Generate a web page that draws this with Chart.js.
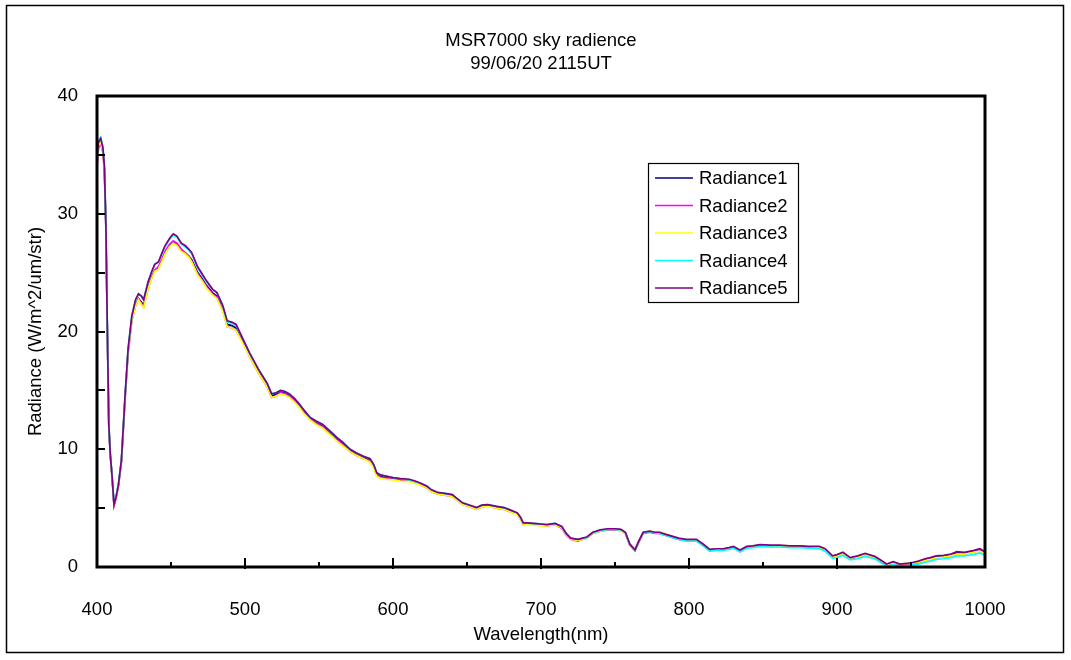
<!DOCTYPE html>
<html>
<head>
<meta charset="utf-8">
<style>
  html, body { margin: 0; padding: 0; background: #fff; }
  #wrap { width: 1071px; height: 660px; position: relative; }
</style>
<script src="https://cdn.jsdelivr.net/npm/chart.js@4.4.0/dist/chart.umd.min.js"></script>
</head>
<body>
<div id="wrap"><canvas id="chart" width="1071" height="660"></canvas></div>
<script>
// wavelength (nm)
const wavelengths = [
  400, 401, 402.5, 404, 405, 406, 407, 408, 409, 410,
  411.5, 413, 414.5, 416.5, 419, 421, 423.5, 426, 428, 430,
  431.5, 434.5, 437, 439, 441.5, 444, 446, 449, 451.5, 454,
  457, 459.5, 462, 464, 468, 471, 474, 478, 481, 485,
  488, 491, 494, 498.5, 503, 506, 509, 512, 515, 518,
  521, 524, 527, 530, 533.5, 537, 540, 544, 548, 552.5,
  556, 559.5, 562, 566, 571, 575, 580, 584.5, 587, 589,
  592, 596, 600, 605, 611, 615, 618, 623, 626, 630,
  635, 640, 644, 647, 652, 656.5, 660, 664, 670, 675,
  679, 684, 686, 688, 691, 695, 700, 704, 709.5, 714,
  717, 720, 725, 728, 731, 735, 740, 745, 750, 754,
  757, 760, 763.5, 765.5, 769, 773.5, 777, 780, 785, 789,
  793, 798, 805, 809.5, 814, 819, 823, 827, 830, 834.5,
  839, 843, 848, 855, 861.5, 868, 875, 881, 888, 892,
  897, 900, 904, 909, 914, 919, 925.5, 930, 933.5, 938,
  942.5, 947, 951.5, 955, 959.5, 963, 967, 972, 977, 981,
  986, 992, 996.5, 1000
];

const radiance1 = [
  34.6, 35.9, 36.2, 35.4, 33.8, 29.0, 20.0, 12.0, 9.5, 8.0,
  5.3, 6.0, 7.0, 9.0, 14.5, 18.3, 21.0, 22.2, 22.8, 22.5,
  22.2, 23.7, 24.6, 25.2, 25.4, 26.1, 26.7, 27.3, 27.6, 27.4,
  26.9, 26.7, 26.4, 26.1, 25.0, 24.5, 23.9, 23.3, 23.0, 21.9,
  20.6, 20.5, 20.3, 19.2, 18.0, 17.3, 16.6, 16.0, 15.4, 14.5,
  14.7, 14.9, 14.8, 14.6, 14.2, 13.7, 13.2, 12.6, 12.3, 12.0,
  11.6, 11.2, 10.9, 10.5, 9.9, 9.6, 9.3, 9.1, 8.6, 7.9,
  7.7, 7.6, 7.5, 7.4, 7.35, 7.2, 7.1, 6.8, 6.5, 6.3,
  6.2, 6.1, 5.7, 5.4, 5.2, 5.0, 5.2, 5.25, 5.1, 5.0,
  4.8, 4.55, 4.2, 3.7, 3.7, 3.65, 3.6, 3.55, 3.65, 3.4,
  2.8, 2.4, 2.3, 2.4, 2.5, 2.9, 3.1, 3.2, 3.2, 3.15,
  2.9, 1.9, 1.4, 2.0, 2.9, 3.0, 2.9, 2.9, 2.7, 2.55,
  2.4, 2.3, 2.3, 1.9, 1.45, 1.5, 1.5, 1.6, 1.7, 1.35,
  1.7, 1.75, 1.85, 1.8, 1.8, 1.75, 1.75, 1.7, 1.7, 1.5,
  0.9, 1.0, 1.2, 0.75, 0.9, 1.1, 0.85, 0.5, 0.2, 0.4,
  0.2, 0.25, 0.35, 0.4, 0.6, 0.7, 0.85, 0.9, 1.0, 1.2,
  1.15, 1.3, 1.45, 1.2
];

const radiance2 = [
  34.0, 35.5, 36.0, 35.2, 33.6, 28.8, 19.8, 11.9, 9.4, 7.9,
  5.2, 5.9, 6.9, 8.9, 14.3, 18.1, 20.9, 22.2, 22.8, 22.4,
  22.1, 23.7, 24.6, 25.2, 25.5, 26.2, 26.8, 27.4, 27.7, 27.5,
  27.0, 26.7, 26.4, 26.0, 24.9, 24.4, 23.8, 23.2, 22.9, 21.8,
  20.4, 20.3, 20.1, 19.1, 17.9, 17.2, 16.5, 15.9, 15.3, 14.4,
  14.5, 14.8, 14.7, 14.5, 14.1, 13.6, 13.1, 12.5, 12.2, 11.9,
  11.5, 11.1, 10.8, 10.4, 9.8, 9.5, 9.2, 9.0, 8.5, 7.8,
  7.6, 7.5, 7.45, 7.35, 7.3, 7.15, 7.0, 6.7, 6.4, 6.2,
  6.1, 6.0, 5.6, 5.3, 5.1, 4.9, 5.1, 5.2, 5.0, 4.9,
  4.7, 4.5, 4.1, 3.6, 3.65, 3.6, 3.55, 3.5, 3.6, 3.3,
  2.7, 2.35, 2.2, 2.35, 2.45, 2.85, 3.05, 3.15, 3.15, 3.1,
  2.85, 1.85, 1.4, 1.95, 2.85, 2.95, 2.85, 2.85, 2.65, 2.5,
  2.35, 2.25, 2.25, 1.85, 1.4, 1.45, 1.45, 1.55, 1.65, 1.3,
  1.65, 1.7, 1.8, 1.75, 1.75, 1.7, 1.7, 1.65, 1.65, 1.45,
  0.85, 0.95, 1.15, 0.7, 0.85, 1.05, 0.8, 0.45, 0.15, 0.35,
  0.15, 0.2, 0.3, 0.35, 0.55, 0.65, 0.8, 0.85, 0.95, 1.1,
  1.1, 1.25, 1.4, 1.15
];

const radiance3 = [
  34.4, 35.8, 36.1, 35.3, 33.7, 28.9, 19.9, 11.9, 9.4, 7.9,
  5.3, 6.0, 7.0, 9.0, 14.4, 18.2, 20.9, 22.1, 22.7, 22.3,
  22.0, 23.6, 24.5, 25.1, 25.3, 26.0, 26.6, 27.2, 27.5, 27.3,
  26.8, 26.6, 26.3, 25.9, 24.8, 24.3, 23.7, 23.1, 22.8, 21.7,
  20.4, 20.3, 20.1, 19.0, 17.9, 17.2, 16.5, 15.9, 15.3, 14.4,
  14.5, 14.7, 14.6, 14.4, 14.0, 13.5, 13.0, 12.5, 12.1, 11.8,
  11.4, 11.0, 10.7, 10.3, 9.8, 9.5, 9.2, 8.9, 8.4, 7.7,
  7.5, 7.45, 7.4, 7.3, 7.25, 7.1, 7.0, 6.7, 6.4, 6.2,
  6.1, 6.0, 5.6, 5.3, 5.1, 4.9, 5.1, 5.15, 5.0, 4.9,
  4.7, 4.45, 4.1, 3.6, 3.6, 3.55, 3.5, 3.5, 3.6, 3.35,
  2.75, 2.35, 2.25, 2.35, 2.45, 2.85, 3.05, 3.2, 3.2, 3.1,
  2.85, 1.9, 1.45, 2.0, 2.9, 3.05, 2.95, 3.0, 2.75, 2.6,
  2.4, 2.3, 2.3, 1.85, 1.45, 1.5, 1.55, 1.6, 1.7, 1.4,
  1.7, 1.75, 1.8, 1.8, 1.75, 1.75, 1.7, 1.7, 1.65, 1.5,
  0.9, 0.95, 1.15, 0.75, 0.85, 1.05, 0.8, 0.5, 0.2, 0.35,
  0.25, 0.3, 0.35, 0.4, 0.55, 0.65, 0.8, 0.85, 0.95, 1.1,
  1.1, 1.25, 1.35, 1.15
];

const radiance4 = [
  35.0, 36.2, 36.5, 35.7, 34.0, 29.2, 20.2, 12.1, 9.6, 8.1,
  5.4, 6.1, 7.1, 9.1, 14.6, 18.5, 21.3, 22.6, 23.2, 23.0,
  22.7, 24.2, 25.1, 25.7, 25.9, 26.6, 27.2, 27.8, 28.2, 28.0,
  27.4, 27.2, 26.9, 26.6, 25.4, 24.8, 24.2, 23.6, 23.3, 22.1,
  20.8, 20.7, 20.5, 19.4, 18.2, 17.5, 16.8, 16.2, 15.6, 14.7,
  14.8, 15.0, 14.9, 14.7, 14.3, 13.8, 13.3, 12.7, 12.4, 12.1,
  11.7, 11.3, 11.0, 10.6, 10.0, 9.7, 9.4, 9.2, 8.7, 8.0,
  7.8, 7.7, 7.6, 7.5, 7.4, 7.25, 7.15, 6.85, 6.55, 6.35,
  6.25, 6.15, 5.75, 5.45, 5.25, 5.05, 5.25, 5.3, 5.15, 5.05,
  4.85, 4.6, 4.25, 3.75, 3.7, 3.7, 3.65, 3.6, 3.7, 3.45,
  2.85, 2.45, 2.35, 2.4, 2.5, 2.9, 3.1, 3.2, 3.2, 3.15,
  2.9, 1.95, 1.45, 2.0, 2.9, 3.0, 2.9, 2.85, 2.65, 2.5,
  2.35, 2.2, 2.2, 1.8, 1.35, 1.4, 1.4, 1.5, 1.6, 1.3,
  1.6, 1.65, 1.75, 1.7, 1.7, 1.65, 1.65, 1.6, 1.55, 1.35,
  0.75, 0.8, 1.0, 0.6, 0.7, 0.9, 0.7, 0.35, 0.05, 0.2,
  0.05, 0.1, 0.2, 0.25, 0.4, 0.5, 0.65, 0.7, 0.8, 0.95,
  0.95, 1.05, 1.2, 1.0
];

const radiance5 = [
  34.8, 36.1, 36.4, 35.6, 34.0, 29.1, 20.1, 12.0, 9.5, 8.0,
  5.3, 6.0, 7.0, 9.1, 14.6, 18.5, 21.3, 22.7, 23.2, 23.0,
  22.7, 24.2, 25.1, 25.7, 25.9, 26.7, 27.3, 27.9, 28.3, 28.1,
  27.5, 27.3, 27.0, 26.7, 25.5, 24.9, 24.3, 23.6, 23.3, 22.2,
  20.9, 20.8, 20.6, 19.4, 18.2, 17.5, 16.8, 16.2, 15.6, 14.7,
  14.8, 15.0, 14.9, 14.7, 14.3, 13.8, 13.3, 12.7, 12.4, 12.1,
  11.7, 11.3, 11.0, 10.6, 10.0, 9.7, 9.4, 9.2, 8.7, 8.0,
  7.8, 7.7, 7.6, 7.5, 7.45, 7.3, 7.15, 6.85, 6.55, 6.35,
  6.25, 6.15, 5.75, 5.45, 5.25, 5.05, 5.25, 5.3, 5.15, 5.05,
  4.85, 4.6, 4.25, 3.75, 3.75, 3.7, 3.65, 3.6, 3.7, 3.45,
  2.85, 2.45, 2.35, 2.45, 2.55, 2.95, 3.15, 3.25, 3.25, 3.2,
  2.95, 1.95, 1.45, 2.05, 2.95, 3.05, 2.95, 2.95, 2.75, 2.6,
  2.45, 2.35, 2.35, 1.95, 1.5, 1.55, 1.55, 1.65, 1.75, 1.45,
  1.75, 1.8, 1.9, 1.85, 1.85, 1.8, 1.8, 1.75, 1.75, 1.55,
  0.95, 1.05, 1.25, 0.8, 0.95, 1.15, 0.9, 0.55, 0.25, 0.45,
  0.25, 0.3, 0.4, 0.5, 0.7, 0.8, 0.95, 1.0, 1.1, 1.3,
  1.25, 1.4, 1.55, 1.3
];

const seriesNames = ["Radiance1", "Radiance2", "Radiance3", "Radiance4", "Radiance5"];
const seriesValues = [radiance1, radiance2, radiance3, radiance4, radiance5];
const seriesColors = ["#000080", "#ff00ff", "#ffff00", "#00ffff", "#800080"];

const xTicks = [400, 500, 600, 700, 800, 900, 1000];
const yTicks = [0, 10, 20, 30, 40];

const titleLines = ["MSR7000 sky radience", "99/06/20 2115UT"];

const FONT = "'Liberation Sans', Arial, sans-serif";

// frame, plot border, inside ticks, title and the legend box (Excel look)
const excelLook = {
  id: "excelLook",
  beforeDraw(chart) {
    const ctx = chart.ctx;
    ctx.save();
    ctx.fillStyle = "#fff";
    ctx.fillRect(0, 0, chart.width, chart.height);
    ctx.strokeStyle = "#000";
    ctx.lineWidth = 1.5;
    ctx.strokeRect(6.5, 5.5, 1057, 647);
    ctx.restore();
  },
  afterDraw(chart) {
    const ctx = chart.ctx;
    const a = chart.chartArea;
    const xs = chart.scales.x;
    const ys = chart.scales.y;
    ctx.save();

    // plot border
    ctx.strokeStyle = "#000";
    ctx.lineWidth = 3;
    ctx.strokeRect(a.left, a.top, a.right - a.left, a.bottom - a.top);

    // ticks pointing inside
    ctx.lineWidth = 2;
    ctx.beginPath();
    for (let v = 450; v < 1000; v += 50) {
      const px = Math.round(xs.getPixelForValue(v));
      const len = v % 100 === 0 ? 9 : 5;
      ctx.moveTo(px, a.bottom + (v % 100 === 0 ? 2 : 0));
      ctx.lineTo(px, a.bottom - len);
    }
    for (let v = 5; v < 40; v += 5) {
      const py = Math.round(ys.getPixelForValue(v));
      ctx.moveTo(a.left, py);
      ctx.lineTo(a.left + 8, py);
    }
    ctx.stroke();

    // chart title
    ctx.fillStyle = "#000";
    ctx.font = "18.5px " + FONT;
    ctx.textAlign = "center";
    ctx.textBaseline = "middle";
    const cx = (a.left + a.right) / 2;
    ctx.fillText(titleLines[0], cx, 41);
    ctx.fillText(titleLines[1], cx, 64);

    // legend
    const lx = 648, ly = 163, lw = 150, lh = 139;
    ctx.fillStyle = "#fff";
    ctx.fillRect(lx, ly, lw, lh);
    ctx.strokeStyle = "#000";
    ctx.lineWidth = 1.2;
    ctx.strokeRect(lx + 0.5, ly + 0.5, lw, lh);
    ctx.textAlign = "left";
    chart.data.datasets.forEach((ds, i) => {
      const y = 178 + i * 27.5;
      ctx.strokeStyle = ds.borderColor;
      ctx.lineWidth = 1.5;
      ctx.beginPath();
      ctx.moveTo(655, y);
      ctx.lineTo(693, y);
      ctx.stroke();
      ctx.fillStyle = "#000";
      ctx.fillText(ds.label, 699, y + 1);
    });
    ctx.restore();
  }
};

const ctx = document.getElementById("chart").getContext("2d");

new Chart(ctx, {
  type: "line",
  data: {
    datasets: seriesNames.map((name, i) => ({
      label: name,
      data: wavelengths.map((w, j) => ({ x: w, y: seriesValues[i][j] })),
      borderColor: seriesColors[i],
      backgroundColor: seriesColors[i],
      borderWidth: 1.7,
      pointRadius: 0,
      tension: 0,
      order: seriesNames.length - i
    }))
  },
  options: {
    responsive: false,
    animation: false,
    layout: { padding: { top: 96, right: 86, left: 0, bottom: 0 } },
    plugins: {
      legend: { display: false },
      title: { display: false },
      tooltip: { enabled: false }
    },
    scales: {
      x: {
        type: "linear",
        min: 400,
        max: 1000,
        afterFit: (s) => { s.height = 93; },
        afterBuildTicks: (s) => { s.ticks = xTicks.map((v) => ({ value: v })); },
        grid: { display: false, drawTicks: false },
        border: { display: false },
        ticks: {
          color: "#000",
          padding: 32,
          font: { family: FONT, size: 18.5 },
          callback: (v) => String(v)
        },
        title: {
          display: true,
          text: "Wavelength(nm)",
          color: "#000",
          font: { family: FONT, size: 18.5 },
          padding: { top: 0, bottom: 14 }
        }
      },
      y: {
        min: 0,
        max: 40,
        afterFit: (s) => { s.width = 97; },
        afterBuildTicks: (s) => { s.ticks = yTicks.map((v) => ({ value: v })); },
        grid: { display: false, drawTicks: false },
        border: { display: false },
        ticks: {
          color: "#000",
          padding: 19,
          font: { family: FONT, size: 18.5 },
          callback: (v) => String(v)
        },
        title: {
          display: true,
          text: "Radiance (W/m^2/um/str)",
          color: "#000",
          font: { family: FONT, size: 18.5 },
          padding: { top: 25, bottom: 0 }
        }
      }
    }
  },
  plugins: [excelLook]
});
</script>
</body>
</html>
